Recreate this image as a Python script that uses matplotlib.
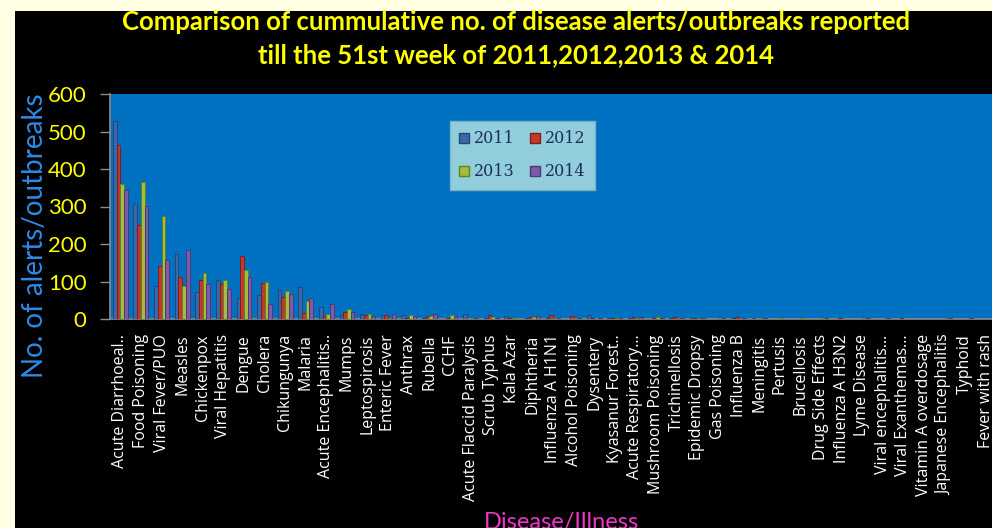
import numpy as np
import matplotlib
matplotlib.use('Agg')
import matplotlib.pyplot as plt
from matplotlib.patches import Rectangle, Patch

# данные графика
diseases = ['Acute Diarrhoeal..', 'Food Poisoning', 'Viral Fever/PUO', 'Measles', 'Chickenpox',
            'Viral Hepatitis', 'Dengue', 'Cholera', 'Chikungunya', 'Malaria',
            'Acute Encephalitis..', 'Mumps', 'Leptospirosis', 'Enteric Fever', 'Anthrax',
            'Rubella', 'CCHF', 'Acute Flaccid Paralysis', 'Scrub Typhus', 'Kala Azar',
            'Diphtheria', 'Influenza A H1N1', 'Alcohol Poisoning', 'Dysentery', 'Kyasanur Forest..',
            'Acute Respiratory...', 'Mushroom Poisoning', 'Trichinellosis', 'Epidemic Dropsy',
            'Gas Poisoning', 'Influenza B', 'Meningitis', 'Pertusis', 'Brucellosis',
            'Drug Side Effects', 'Influenza A H3N2', 'Lyme Disease', 'Viral encephalitis...',
            'Viral Exanthemas...', 'Vitamin A overdosage', 'Japanese Encephalitis', 'Typhoid',
            'Fever with rash']
years = ['2011', '2012', '2013', '2014']
v2011 = [529, 306, 88, 174, 73, 103, 57, 63, 78, 86, 32, 11, 14, 11, 11, 2, 1, 14, 2, 7, 4, 2,
         1, 12, 2, 2, 1, 2, 3, 1, 2, 4, 1, 1, 0, 1, 0, 1, 0, 1, 0, 0, 0]
v2012 = [465, 250, 141, 113, 103, 94, 169, 97, 59, 15, 8, 19, 11, 11, 3, 7, 2, 1, 11, 2, 5, 10,
         9, 2, 3, 6, 2, 5, 3, 1, 6, 1, 1, 1, 1, 3, 1, 1, 2, 1, 1, 1, 1]
v2013 = [359, 365, 275, 88, 123, 103, 132, 100, 75, 47, 14, 27, 14, 4, 11, 7, 11, 2, 5, 2, 5, 2,
         3, 1, 2, 2, 6, 2, 4, 2, 3, 2, 3, 2, 3, 1, 3, 1, 1, 1, 2, 1, 1]
v2014 = [343, 302, 157, 184, 94, 81, 113, 41, 68, 56, 39, 18, 7, 14, 7, 14, 7, 2, 3, 1, 7, 3,
         2, 3, 4, 6, 3, 2, 3, 2, 2, 2, 1, 1, 2, 1, 2, 2, 1, 1, 3, 3, 1]

series = [v2011, v2012, v2013, v2014]
colors = ['#3A67A8', '#C0392F', '#A3BE3E', '#7C5CA6']
edges = ['#24467A', '#7E1E18', '#66801E', '#4E3872']

W, H = 992, 528
fig = plt.figure(figsize=(W / 100, H / 100), dpi=100)
fig.patch.set_facecolor('#FFFFE3')
# чёрная подложка под всем
bg = Rectangle((15 / W, 0), 1 - 15 / W, 1 - 11 / H, transform=fig.transFigure,
               facecolor='black', edgecolor='none', zorder=-10)
fig.add_artist(bg)

ax = fig.add_axes([110 / W, 1 - 319 / H, 1 - 110 / W, 225 / H])
ax.set_facecolor('#0070C0')

x = np.arange(len(diseases))
bw = 0.18
for i, (vals, c, ec, yr) in enumerate(zip(series, colors, edges, years)):
    ax.bar(x + (i - 1.5) * bw, vals, width=bw, color=c, edgecolor=ec, linewidth=0.7,
           label=yr, zorder=3)

ax.set_xlim(-0.5, 42.3)
ax.set_ylim(0, 600)
ax.set_yticks(range(0, 601, 100))
ax.set_xticks(x)
ax.set_xticklabels(diseases, rotation=90, color='white', fontsize=11.5, family='Open Sans')
ax.tick_params(axis='x', length=0, pad=11)
ax.tick_params(axis='y', length=7, width=1, color='#8C8C8C', colors='#FFFF00', pad=10,
               labelsize=16)
for lab in ax.get_yticklabels():
    lab.set_family('Lato')
for s in ['top', 'right']:
    ax.spines[s].set_visible(False)
for s in ['left', 'bottom']:
    ax.spines[s].set_color('#8C8C8C')
    ax.spines[s].set_linewidth(1.2)

# легенда: 2011 2012 в первой строке, 2013 2014 во второй
handles = [Patch(facecolor=c, edgecolor=ec, label=yr) for c, ec, yr in zip(colors, edges, years)]
handles = [handles[0], handles[2], handles[1], handles[3]]
leg = ax.legend(handles=handles, ncol=2, loc='upper left', bbox_to_anchor=(0.376, 0.916),
                prop={'family': 'DejaVu Serif', 'size': 11.5}, frameon=True, fancybox=False,
                facecolor='#92CDDC', edgecolor='#7AB3C4', framealpha=1,
                handlelength=0.6, handleheight=0.6, handletextpad=0.3,
                labelspacing=1.0, columnspacing=1.0, borderpad=0.6)
for t in leg.get_texts():
    t.set_color('#1F2E5A')

fig.text(516 / W, 1 - 22 / H, 'Comparison of cummulative no. of disease alerts/outbreaks reported',
         color='#FFFF00', fontsize=18.5, fontweight='bold', family='Lato', ha='center', va='center')
fig.text(516 / W, 1 - 55 / H, 'till the 51st week of 2011,2012,2013 & 2014',
         color='#FFFF00', fontsize=18.5, fontweight='bold', family='Lato', ha='center', va='center')
fig.text(35 / W, 1 - 236 / H, 'No. of alerts/outbreaks', color='#2E8AE6', fontsize=20,
         family='Lato', rotation=90, ha='center', va='center')
fig.text(561 / W, 1 - 512 / H, 'Disease/Illness', color='#F035C8', fontsize=17,
         family='Lato', ha='center', va='top')

fig.savefig('out.png', dpi=100, facecolor=fig.get_facecolor())
